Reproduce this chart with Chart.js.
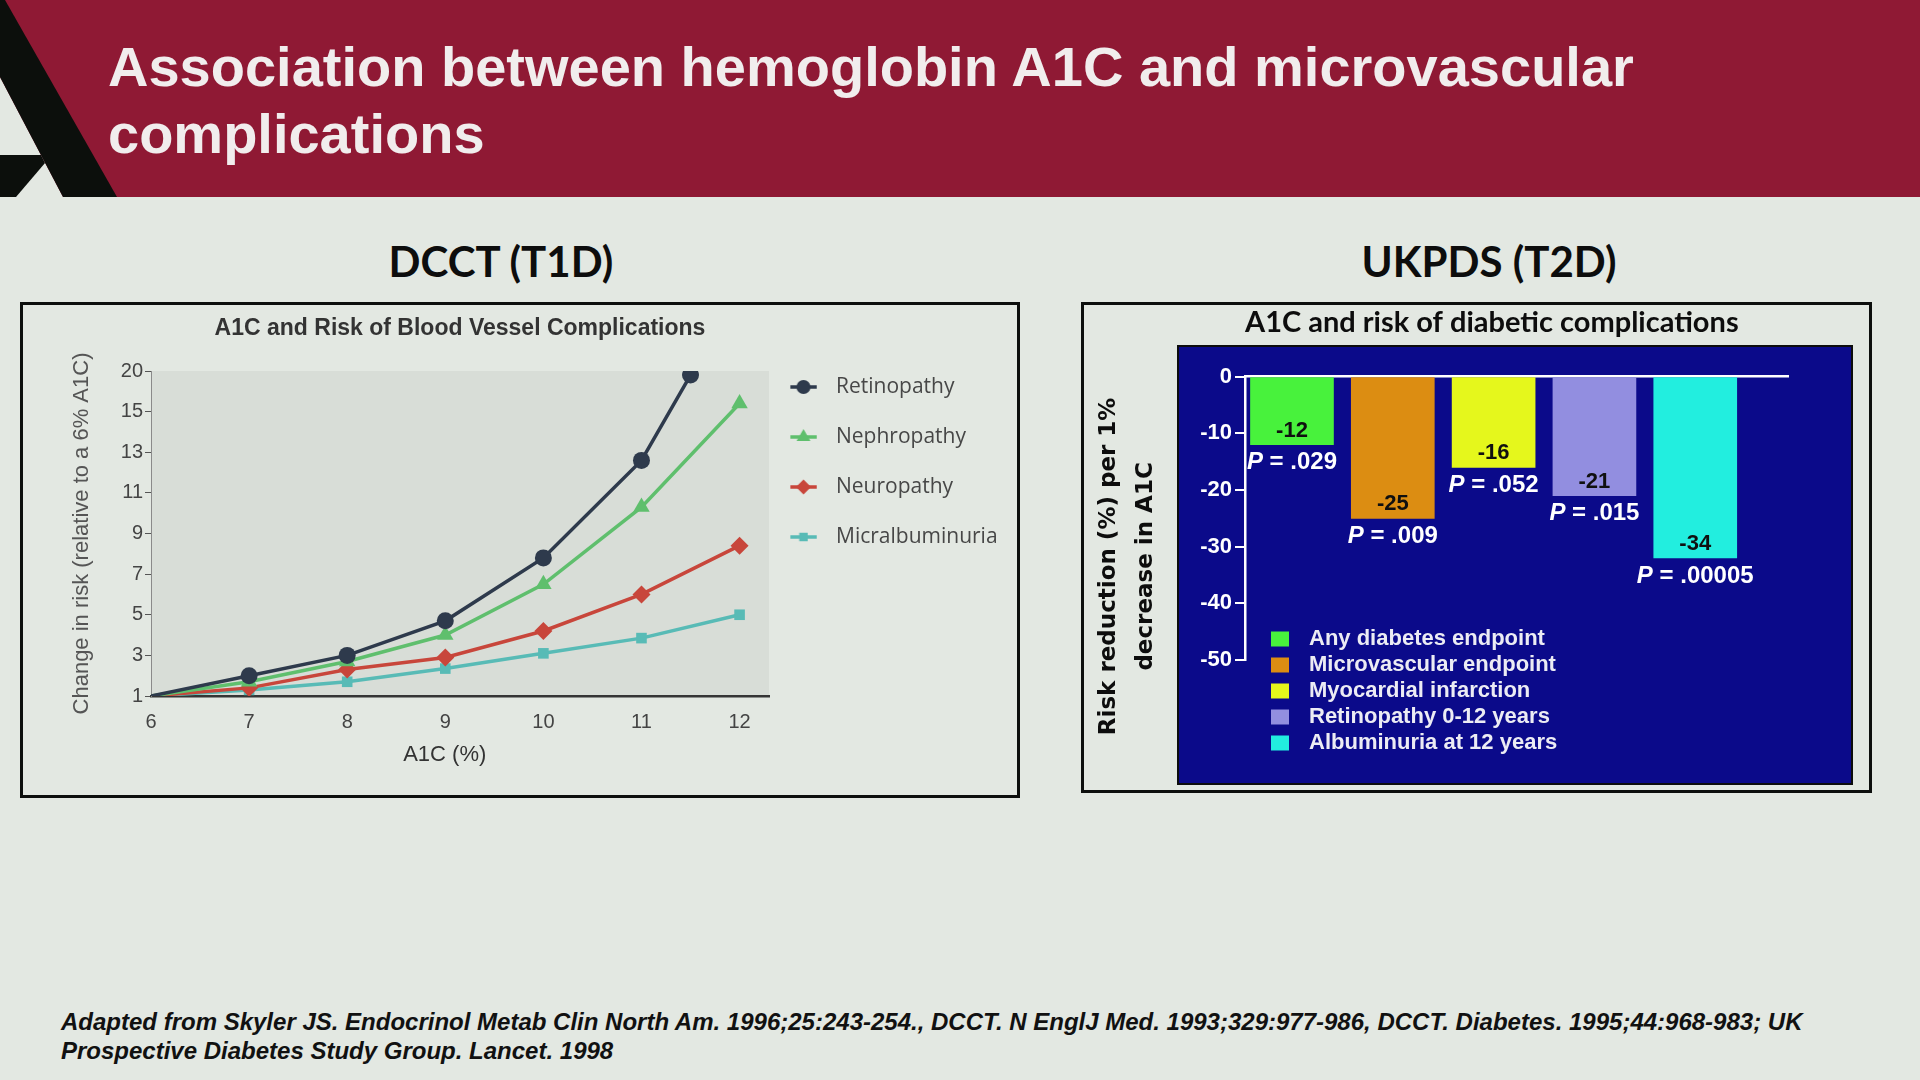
<!DOCTYPE html>
<html>
<head>
<meta charset="utf-8">
<script src="https://cdn.jsdelivr.net/npm/chart.js@4.4.1/dist/chart.umd.min.js"></script>
<style>
html,body{margin:0;padding:0}
body{width:1920px;height:1080px;position:relative;overflow:hidden;background:#e3e8e2;font-family:"Liberation Sans",Arial,sans-serif}
#hdr{position:absolute;left:0;top:0;width:1920px;height:197px;background:#8f1934}
#logo{position:absolute;left:0;top:0}
#title{position:absolute;left:108px;top:33px;color:#f1eded;font-weight:bold;font-size:56px;line-height:67px;white-space:nowrap}
.sub{position:absolute;top:240px;font-family:Lato,sans-serif;font-weight:bold;font-size:42px;line-height:1;color:#0d0d0d;text-align:center;white-space:nowrap}
.box{position:absolute;box-sizing:border-box;border:3px solid #0d0f0d}
#blue{position:absolute;box-sizing:border-box;left:1177px;top:345px;width:676px;height:440px;background:#0b0a8a;border:2px solid #0d0d0d}
canvas.chart{position:absolute}
#foot{position:absolute;left:61px;top:1007px;font-size:24px;line-height:29px;font-weight:bold;font-style:italic;color:#111;white-space:nowrap}
</style>
</head>
<body>
<div id="hdr"></div>
<svg id="logo" width="130" height="197" viewBox="0 0 130 197">
  <polygon points="0,77 63,197 0,197" fill="#e3e8e2"/>
  <polygon points="0,0 5,0 117,197 63,197 0,77" fill="#0c0f0c"/>
  <polygon points="0,155 41,155 45,163 16,197 0,197" fill="#0c0f0c"/>
</svg>
<div id="title">Association between hemoglobin A1C and microvascular<br>complications</div>

<div class="sub" style="left:0;width:1002px">DCCT (T1D)</div>
<div class="sub" style="left:1089px;width:800px">UKPDS (T2D)</div>

<div class="box" style="left:20px;top:302px;width:1000px;height:496px"></div>
<div class="box" style="left:1081px;top:302px;width:791px;height:491px"></div>
<div id="blue"></div>

<canvas id="dcct" class="chart" width="1040" height="490" style="left:23px;top:305px"></canvas>
<canvas id="ukpds" class="chart" width="785" height="485" style="left:1084px;top:305px"></canvas>

<div id="foot">Adapted from Skyler JS. Endocrinol Metab Clin North Am. 1996;25:243-254., DCCT. N EnglJ Med. 1993;329:977-986, DCCT. Diabetes. 1995;44:968-983; UK<br>Prospective Diabetes Study Group. Lancet. 1998</div>

<script>
// ---------- DCCT data ----------
const a1cLevels = [6, 7, 8, 9, 10, 11, 12];
const retinopathyA1C = [6, 7, 8, 9, 10, 11, 11.5];
const retinopathy = [1, 2.0, 3.0, 4.7, 7.8, 12.6, 19.5];
const nephropathy = [1, 1.7, 2.7, 4.0, 6.5, 10.3, 16.0];
const neuropathy = [1, 1.4, 2.3, 2.9, 4.2, 6.0, 8.4];
const micralbuminuria = [1, 1.3, 1.7, 2.35, 3.1, 3.85, 5.0];
const riskTickLabels = [1, 3, 5, 7, 9, 11, 13, 15, 20];
const seriesNames = ['Retinopathy', 'Nephropathy', 'Neuropathy', 'Micralbuminuria'];

// ---------- UKPDS data ----------
const ukpdsEndpoints = ['Any diabetes endpoint', 'Microvascular endpoint', 'Myocardial infarction', 'Retinopathy 0-12 years', 'Albuminuria at 12 years'];
const ukpdsBarValues = [-12, -25, -16, -21, -32];
const ukpdsValueLabels = ['-12', '-25', '-16', '-21', '-34'];
const ukpdsPValues = ['.029', '.009', '.052', '.015', '.00005'];

// ---------- styles ----------
const seriesColors = ['#2e3a4c', '#5fbf6d', '#c8463b', '#58bbb6'];
const markerStyles = ['circle', 'triangle', 'rectRot', 'rect'];
const markerRadii = [8.5, 9.5, 9, 7.5];
const ukpdsColors = ['#48f23c', '#dc8d12', '#e5f71c', '#928ee0', '#22eedf'];

Chart.defaults.font.family = '"Liberation Sans", Arial, sans-serif';

// the DCCT y axis is drawn with evenly spaced, non-uniform labels (1,3,...,15,20)
function riskToAxis(v) {
  const n = riskTickLabels.length;
  for (let i = 0; i < n - 1; i++) {
    const a = riskTickLabels[i], b = riskTickLabels[i + 1];
    if (v <= b || i === n - 2) return i + (v - a) / (b - a);
  }
}

function legendIcon(color, style, radius) {
  const c = document.createElement('canvas');
  c.width = 44; c.height = 22;
  const g = c.getContext('2d');
  g.strokeStyle = color; g.lineWidth = 3.5;
  g.beginPath(); g.moveTo(0.5, 11); g.lineTo(27, 11); g.stroke();
  g.fillStyle = color;
  Chart.helpers.drawPoint(g, {pointStyle: style, radius: radius, borderWidth: 0, rotation: 0}, 13.75, 11);
  return c;
}
const legendIcons = seriesColors.map((c, i) => legendIcon(c, markerStyles[i], markerRadii[i] - 1.5));

const seriesX = [retinopathyA1C, a1cLevels, a1cLevels, a1cLevels];
const seriesY = [retinopathy, nephropathy, neuropathy, micralbuminuria];

const dcctDatasets = seriesNames.map((name, i) => ({
  label: name,
  data: seriesY[i].map((v, j) => ({x: seriesX[i][j], y: riskToAxis(v)})),
  borderColor: seriesColors[i],
  backgroundColor: seriesColors[i],
  borderWidth: 3.5,
  pointStyle: markerStyles[i],
  pointRadius: seriesY[i].map((v, j) => j === 0 ? 0 : markerRadii[i]),
  pointBorderWidth: 0,
  tension: 0
}));

// legend width -> layout padding so that the plot area ends where the reference's does
const LEFT_W = 1040;
const legendFont = '21px "Open Sans"';
const mctx = document.createElement('canvas').getContext('2d');
mctx.font = legendFont;
const maxTextW = Math.max(...seriesNames.map(n => mctx.measureText(n).width));
const legendW = 29 + 27.5 + 10.5 + maxTextW + 10;
const leftPadRight = Math.max(0, LEFT_W - 746 - legendW);

const plotBg = {
  id: 'plotBg',
  beforeDraw(chart) {
    const {ctx, chartArea: a} = chart;
    ctx.save();
    ctx.fillStyle = '#d8ddd7';
    ctx.fillRect(a.left, a.top, a.right - a.left, a.bottom - a.top);
    ctx.restore();
  }
};

new Chart(document.getElementById('dcct'), {
  type: 'line',
  data: {datasets: dcctDatasets},
  options: {
    responsive: false,
    animation: false,
    layout: {padding: {left: 0, top: 0, bottom: 0, right: leftPadRight}},
    plugins: {
      title: {
        display: true, text: 'A1C and Risk of Blood Vessel Complications', fullSize: false,
        color: '#333333', font: {size: 23, weight: 'bold'}, padding: {top: 10, bottom: 28.4}
      },
      legend: {
        display: true, position: 'right', align: 'start', maxWidth: 600,
        title: {display: true, text: ' ', font: {size: 10}, padding: {top: 30.5, bottom: 0}},
        labels: {
          usePointStyle: true, pointStyleWidth: 27.5, padding: 29, color: '#474747',
          font: {family: '"Open Sans"', size: 21},
          generateLabels(chart) {
            const items = Chart.defaults.plugins.legend.labels.generateLabels(chart);
            items.forEach((it, i) => { it.pointStyle = legendIcons[i]; });
            return items;
          }
        }
      },
      tooltip: {enabled: false}
    },
    scales: {
      x: {
        type: 'linear', min: 6, max: 12.3,
        afterFit(s) { s.height = 99; },
        border: {display: true, color: '#353535', width: 2.5},
        grid: {display: false, drawTicks: false},
        ticks: {stepSize: 1, includeBounds: false, padding: 14, color: '#444444', font: {size: 20}},
        title: {display: true, text: 'A1C (%)' + '\u00a0'.repeat(5), color: '#333333', font: {size: 22}, padding: {top: 0, bottom: 26.8}}
      },
      y: {
        type: 'linear', min: 0, max: 8,
        afterFit(s) { s.width = 128; },
        border: {display: true, color: '#8a8a8a', width: 1},
        grid: {drawOnChartArea: false, drawTicks: true, tickLength: 6, color: '#555555'},
        ticks: {stepSize: 1, padding: 2, color: '#444444', font: {size: 20}, callback: (v) => riskTickLabels[v]},
        title: {display: true, text: 'Change in risk (relative to a 6% A1C)', color: '#555555', font: {size: 22}, padding: {top: 46, bottom: 0}}
      }
    }
  },
  plugins: [plotBg]
});

// ---------- UKPDS chart ----------
const barLabels = {
  id: 'barLabels',
  afterDatasetsDraw(chart) {
    const ctx = chart.ctx;
    const meta = chart.getDatasetMeta(0);
    meta.data.forEach((bar, i) => {
      const x = bar.x, y = bar.y;
      ctx.save();
      ctx.textBaseline = 'middle';
      ctx.textAlign = 'center';
      ctx.font = 'bold 22px "Liberation Sans"';
      ctx.fillStyle = '#101010';
      ctx.fillText(ukpdsValueLabels[i], x, y - 14);
      const f1 = 'italic bold 24px "Liberation Sans"', f2 = 'bold 24px "Liberation Sans"';
      const rest = ' = ' + ukpdsPValues[i];
      ctx.font = f1; const w1 = ctx.measureText('P').width;
      ctx.font = f2; const w2 = ctx.measureText(rest).width;
      const x0 = x - (w1 + w2) / 2;
      ctx.textAlign = 'left';
      ctx.fillStyle = '#ffffff';
      ctx.font = f1; ctx.fillText('P', x0, y + 18);
      ctx.font = f2; ctx.fillText(rest, x0 + w1, y + 18);
      ctx.restore();
    });
  }
};

const endpointLegend = {
  id: 'endpointLegend',
  afterDraw(chart) {
    const {ctx, chartArea: a} = chart;
    ctx.save();
    ctx.font = 'bold 22px "Liberation Sans"';
    ctx.textBaseline = 'middle';
    ctx.textAlign = 'left';
    ukpdsEndpoints.forEach((name, i) => {
      const cy = a.bottom - 21 + i * 26;
      ctx.fillStyle = ukpdsColors[i];
      ctx.fillRect(a.left + 26, cy - 7.5, 18, 15);
      ctx.fillStyle = '#ececf4';
      ctx.fillText(name, a.left + 64, cy);
    });
    ctx.restore();
  }
};

const NB = '\u00a0'.repeat(12);

new Chart(document.getElementById('ukpds'), {
  type: 'bar',
  data: {
    datasets: [{
      label: 'Risk reduction (%) per 1% decrease in A1C',
      data: ukpdsBarValues.map((v, i) => ({x: i, y: v})),
      backgroundColor: ukpdsColors,
      borderWidth: 0,
      barThickness: 83
    }]
  },
  options: {
    responsive: false,
    animation: false,
    layout: {padding: {left: 0, right: 81, top: 0, bottom: 130}},
    plugins: {
      legend: {display: false},
      tooltip: {enabled: false},
      title: {
        display: true, text: 'A1C and risk of diabetic complications', fullSize: false, align: 'start',
        color: '#0d0d0d', font: {family: 'Lato', size: 29, weight: 'bold'}, padding: {top: 0, bottom: 36.9}
      }
    },
    scales: {
      x: {
        type: 'linear', position: 'top', min: -0.466, max: 4.92, offset: false,
        afterFit(s) { s.height = 0; },
        grid: {display: false, drawTicks: false, offset: false},
        ticks: {display: false},
        border: {display: true, color: '#ffffff', width: 2.5}
      },
      y: {
        type: 'linear', min: -50, max: 0,
        afterFit(s) { s.width = 161; },
        ticks: {stepSize: 10, color: '#ffffff', padding: 3, font: {size: 22, weight: 'bold'}},
        grid: {drawOnChartArea: false, drawTicks: true, tickLength: 10, color: '#ffffff', lineWidth: 2},
        border: {display: true, color: '#ffffff', width: 2.5},
        title: {
          display: true,
          text: ['Risk reduction (%) per 1%' + NB, 'decrease in A1C' + NB],
          color: '#0d0d0d',
          font: {family: '"DejaVu Sans"', size: 23, weight: 'bold', lineHeight: 1.6},
          padding: {top: 6.5, bottom: 0}
        }
      }
    }
  },
  plugins: [barLabels, endpointLegend]
});
</script>
</body>
</html>
